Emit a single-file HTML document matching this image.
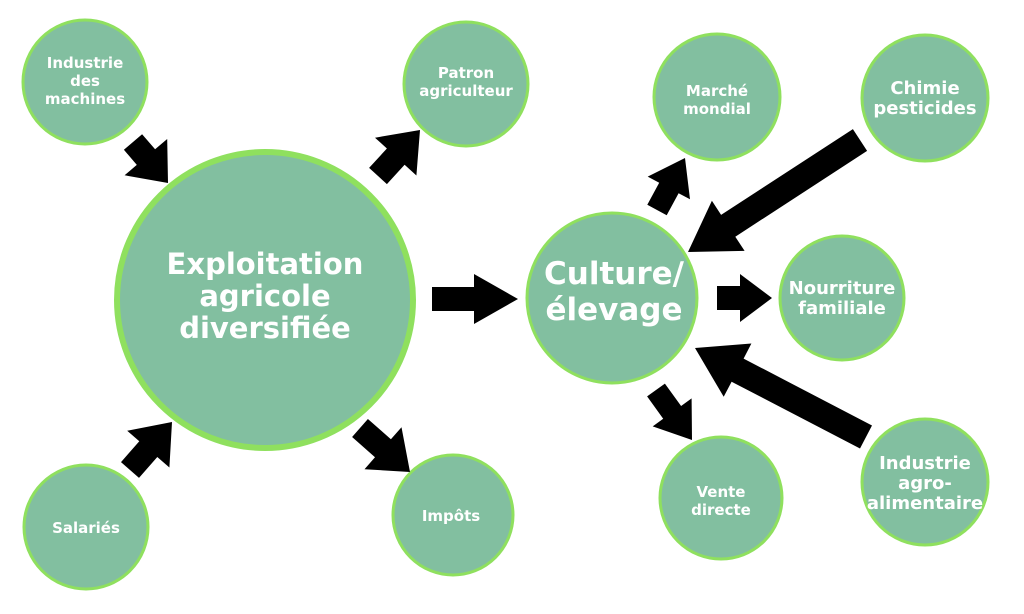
<!DOCTYPE html>
<html><head><meta charset="utf-8"><style>
html,body{margin:0;padding:0;background:#fff;width:1024px;height:614px;overflow:hidden}
svg{display:block}
text{font-family:"DejaVu Sans","Liberation Sans",sans-serif;font-weight:bold;fill:#fff;text-anchor:middle}
</style></head><body>
<svg id="s" width="1024" height="614" viewBox="0 0 1024 614" xmlns="http://www.w3.org/2000/svg">
<g fill="#82bfa0" stroke="#8fe05e" stroke-width="3">
<circle cx="85" cy="82" r="62"/>
<circle cx="466" cy="84" r="62"/>
<circle cx="265" cy="300" r="148" stroke-width="6"/>
<circle cx="86" cy="527" r="62"/>
<circle cx="453" cy="515" r="60"/>
<circle cx="612" cy="298" r="85"/>
<circle cx="717" cy="97" r="63"/>
<circle cx="925" cy="98" r="63"/>
<circle cx="842" cy="298" r="62"/>
<circle cx="925" cy="482" r="63"/>
<circle cx="721" cy="498" r="61"/>
</g>
<g id="arrows" fill="#000"></g>
<g font-size="15">
<text x="85" y="68">Industrie</text><text x="85" y="86">des</text><text x="85" y="104">machines</text>
<text x="466" y="78">Patron</text><text x="466" y="96">agriculteur</text>
<text x="86" y="533">Salariés</text>
<text x="451" y="521">Impôts</text>
<text x="717" y="96">Marché</text><text x="717" y="114">mondial</text>
<text x="721" y="497">Vente</text><text x="721" y="515">directe</text>
</g>
<g font-size="18">
<text x="925" y="94">Chimie</text><text x="925" y="114">pesticides</text>
<text x="842" y="294">Nourriture</text><text x="842" y="314">familiale</text>
<text x="925" y="469">Industrie</text><text x="925" y="489">agro-</text><text x="925" y="509">alimentaire</text>
</g>
<g font-size="29">
<text x="265" y="274">Exploitation</text><text x="265" y="306">agricole</text><text x="265" y="338">diversifiée</text>
</g>
<g font-size="31">
<text x="614" y="284">Culture/</text><text x="614" y="320">élevage</text>
</g>
</svg>
<script>
function arr(x1,y1,x2,y2,w,hw,hl){
 var dx=x2-x1,dy=y2-y1,L=Math.hypot(dx,dy),ux=dx/L,uy=dy/L,px=-uy,py=ux;
 var bx=x2-ux*hl,by=y2-uy*hl;
 var p=[[x1+px*w/2,y1+py*w/2],[bx+px*w/2,by+py*w/2],[bx+px*hw/2,by+py*hw/2],[x2,y2],
 [bx-px*hw/2,by-py*hw/2],[bx-px*w/2,by-py*w/2],[x1-px*w/2,y1-py*w/2]];
 var e=document.createElementNS("http://www.w3.org/2000/svg","polygon");
 e.setAttribute("points",p.map(function(q){return q[0].toFixed(1)+","+q[1].toFixed(1)}).join(" "));
 document.getElementById("arrows").appendChild(e);
}
arr(133,142,168,183,24,56,34);
arr(378,176,420,130,24,56,36);
arr(130,470,172,422,24,56,36);
arr(360,428,410,472,24,56,36);
arr(432,299,518,299,24,50,44);
arr(657,210,685,158,22,48,34);
arr(860,140,688,252,26,60,48);
arr(717,298,772,298,24,48,32);
arr(866,437,695,348,26,60,48);
arr(656,390,692,440,22,48,34);
</script>
</body></html>
